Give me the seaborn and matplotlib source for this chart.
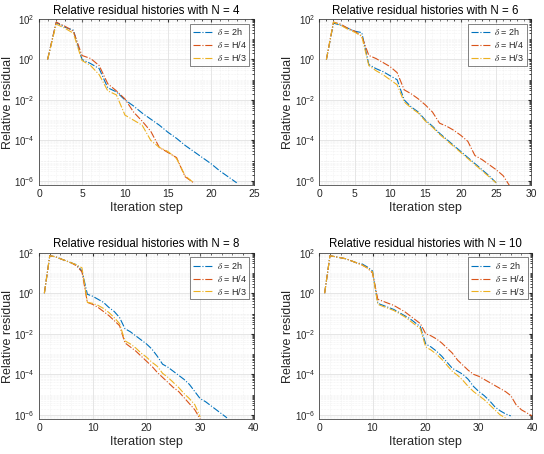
import numpy as np
import seaborn as sns
import matplotlib
matplotlib.use('Agg')
import matplotlib.pyplot as plt
from matplotlib.ticker import FixedLocator, LogLocator, AutoMinorLocator, NullFormatter

# log10 of the relative residual, per iteration step (starting at step 1)
n4_2h = [0, 1.83, 1.6, 1.45, 0.0, -0.2, -0.45, -1.4, -1.6, -2.0, -2.3, -2.65, -2.95, -3.25,
         -3.6, -3.9, -4.25, -4.55, -4.85, -5.15, -5.5, -5.8, -6.1]
n4_h4 = [0, 1.85, 1.65, 1.4, 0.2, 0.05, -0.3, -1.2, -1.55, -1.95, -2.6, -3.05, -3.55, -4.35,
         -4.6, -4.85, -5.8, -6.1]
n4_h3 = [0, 1.75, 1.55, 1.3, -0.05, -0.3, -0.75, -1.55, -1.75, -2.75, -3.0, -3.25, -4.0, -4.35,
         -4.55, -4.9, -5.75, -6.1]

n6_2h = [0, 1.8, 1.7, 1.55, 1.4, 1.33, -0.25, -0.45, -0.6, -0.8, -1.0, -2.0, -2.35, -2.6,
         -3.0, -3.3, -3.65, -3.95, -4.25, -4.55, -4.85, -5.15, -5.45, -5.75, -6.1]
n6_h4 = [0, 1.85, 1.75, 1.55, 1.4, 1.15, 0.2, 0.05, -0.15, -0.35, -0.65, -1.5, -1.7, -1.95,
         -2.25, -2.6, -3.15, -3.3, -3.5, -3.75, -4.05, -4.75, -4.95, -5.2, -5.45, -5.75, -6.3]
n6_h3 = [0, 1.85, 1.7, 1.5, 1.35, 1.15, -0.3, -0.55, -0.75, -1.0, -1.25, -2.1, -2.4, -2.65,
         -3.05, -3.35, -3.7, -4.0, -4.3, -4.6, -4.9, -5.2, -5.5, -5.8, -6.1]

n8_2h = [0, 1.85, 1.8, 1.7, 1.6, 1.5, 1.4, 1.1, -0.05, -0.15, -0.3, -0.45, -0.7, -0.9, -1.2,
         -1.75, -1.9, -2.1, -2.3, -2.5, -2.75, -3.1, -3.5, -3.65, -3.85, -4.05, -4.25, -4.5,
         -4.85, -5.2, -5.35, -5.55, -5.75, -5.95, -6.15]
n8_h4 = [0, 1.85, 1.8, 1.7, 1.6, 1.5, 1.35, 1.05, -0.45, -0.55, -0.7, -0.9, -1.1, -1.35, -1.6,
         -2.45, -2.65, -2.85, -3.1, -3.35, -3.6, -3.9, -4.15, -4.4, -4.65, -4.85, -5.15, -5.45,
         -5.75, -6.2]
n8_h3 = [0, 1.85, 1.8, 1.7, 1.6, 1.5, 1.4, 1.25, -0.45, -0.5, -0.6, -0.75, -0.95, -1.2, -1.5,
         -2.35, -2.5, -2.7, -2.95, -3.15, -3.4, -3.6, -3.95, -4.15, -4.4, -4.65, -4.95, -5.2,
         -5.5, -6.1]

n10_2h = [0, 1.85, 1.8, 1.75, 1.7, 1.6, 1.5, 1.45, 1.3, 1.1, -0.5, -0.6, -0.7, -0.8, -0.95,
          -1.1, -1.25, -1.45, -1.65, -2.5, -2.65, -2.85, -3.1, -3.4, -3.7, -3.85, -4.0, -4.25,
          -4.6, -4.85, -5.05, -5.3, -5.6, -5.8, -5.95, -6.05]
n10_h4 = [0, 1.85, 1.8, 1.75, 1.7, 1.6, 1.5, 1.4, 1.25, 1.0, -0.3, -0.4, -0.5, -0.6, -0.75,
          -0.9, -1.1, -1.3, -1.5, -2.0, -2.1, -2.25, -2.45, -2.7, -2.95, -3.3, -3.55, -3.8,
          -4.0, -4.1, -4.25, -4.4, -4.55, -4.7, -4.85, -5.05, -5.5, -5.75, -5.9, -6.05]
n10_h3 = [0, 1.85, 1.8, 1.75, 1.7, 1.6, 1.5, 1.4, 1.25, 1.05, -0.55, -0.65, -0.75, -0.85,
          -1.0, -1.15, -1.35, -1.55, -1.75, -2.65, -2.8, -3.0, -3.25, -3.55, -3.85, -4.05,
          -4.3, -4.6, -4.85, -5.05, -5.25, -5.5, -5.75, -6.0, -6.15]

panels = [
    ('Relative residual histories with N = 4', n4_2h, n4_h4, n4_h3, 25, 5),
    ('Relative residual histories with N = 6', n6_2h, n6_h4, n6_h3, 30, 5),
    ('Relative residual histories with N = 8', n8_2h, n8_h4, n8_h3, 40, 10),
    ('Relative residual histories with N = 10', n10_2h, n10_h4, n10_h3, 40, 10),
]
labels = [r'$\delta$ = 2h', r'$\delta$ = H/4', r'$\delta$ = H/3']
colors = ['#0072BD', '#D95319', '#EDB120']

sns.set_style('white')
plt.rcParams['font.family'] = ['Liberation Sans', 'DejaVu Sans']
plt.rcParams['mathtext.fontset'] = 'stix'

fig = plt.figure(figsize=(5.44, 4.54), dpi=100)
boxes = [
    [0.0717, 0.592, 0.395, 0.366],
    [0.587, 0.592, 0.390, 0.366],
    [0.0717, 0.0764, 0.395, 0.367],
    [0.587, 0.0764, 0.391, 0.367],
]

for box, (title, a, b, c, xmax, xstep) in zip(boxes, panels):
    ax = fig.add_axes(box)
    for series, lab, col in zip([a, b, c], labels, colors):
        steps = np.arange(1, len(series) + 1)
        sns.lineplot(x=steps, y=10.0 ** np.array(series), ax=ax, color=col,
                     linestyle='-.', linewidth=0.8, label=lab)
    ax.set_yscale('log')
    ax.set_ylim(10 ** -6.22, 100)
    ax.set_xlim(0, xmax)
    ax.set_xticks(np.arange(0, xmax + 1, xstep))
    ax.xaxis.set_minor_locator(AutoMinorLocator())
    ax.yaxis.set_major_locator(FixedLocator([1e-6, 1e-4, 1e-2, 1e0, 1e2]))
    ax.yaxis.set_minor_locator(LogLocator(base=10, subs=np.arange(1, 10), numticks=20))
    ax.yaxis.set_minor_formatter(NullFormatter())
    ax.grid(which='major', color='#dcdcdc', linewidth=0.5)
    ax.grid(which='minor', color='#e8e8e8', linewidth=0.4, linestyle=':')
    ax.tick_params(which='both', direction='in', labelsize=7.5, colors='#262626',
                   top=True, right=True, length=2.5, pad=3)
    ax.tick_params(axis='y', labelsize=7)
    ax.tick_params(which='minor', length=1.5)
    for s in ax.spines.values():
        s.set_color('#262626')
        s.set_linewidth(0.5)
    ax.set_title(title, fontsize=8.3, color='#000000', pad=4)
    ax.set_xlabel('Iteration step', fontsize=9, labelpad=2, color='#262626')
    ax.set_ylabel('Relative residual', fontsize=9, color='#262626')
    ax.yaxis.set_label_coords(-0.118, 0.5)
    leg = ax.legend(loc='upper right', fontsize=6.5, frameon=True, fancybox=False,
                    edgecolor='#262626', handlelength=2.2, borderpad=0.3,
                    labelspacing=0.2, handletextpad=0.4)
    leg.get_frame().set_linewidth(0.5)

fig.savefig('out.png', dpi=100)
